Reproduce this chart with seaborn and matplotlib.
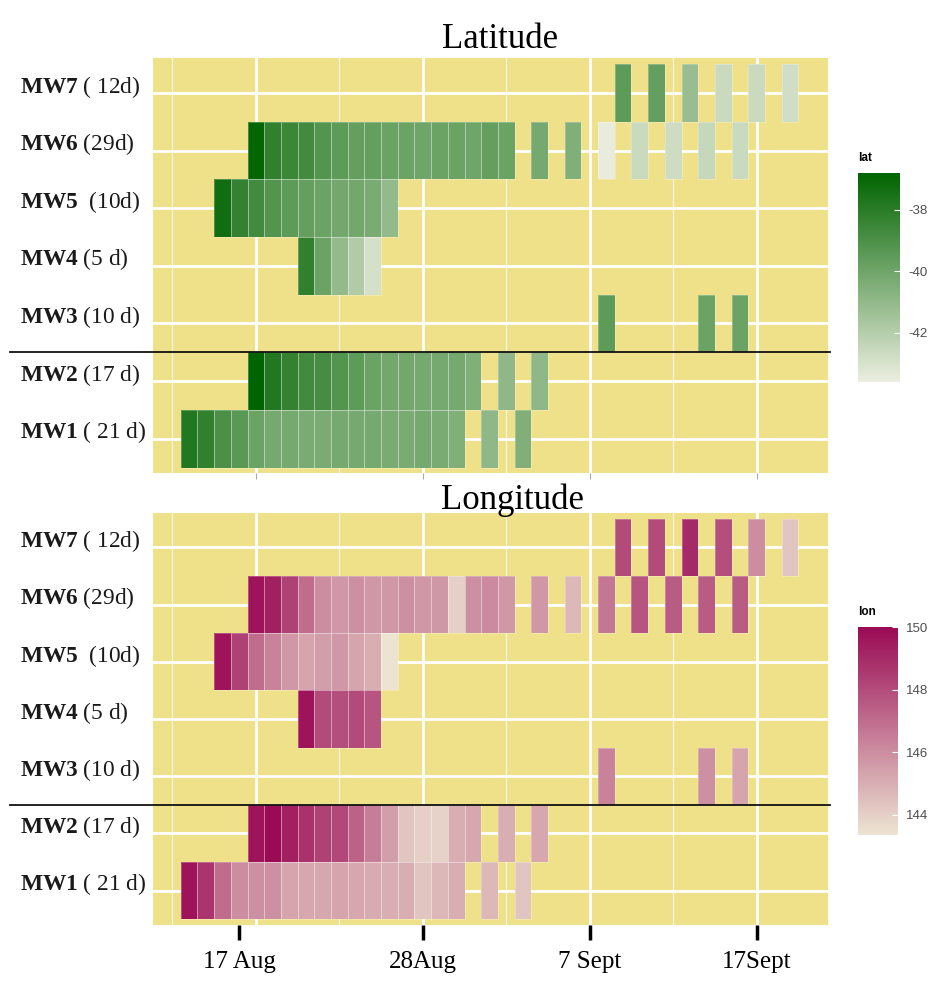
import numpy as np
import pandas as pd
import seaborn as sns
import matplotlib.pyplot as plt
from matplotlib.colors import LinearSegmentedColormap

##### data (x = day of year, one tile per day) #####

tags = ["MW7", "MW6", "MW5", "MW4", "MW3", "MW2", "MW1"]
row_labels = [r"$\mathbf{MW7}$ ( 12d)", r"$\mathbf{MW6}$ (29d)", r"$\mathbf{MW5}$  (10d)",
              r"$\mathbf{MW4}$ (5 d)", r"$\mathbf{MW3}$ (10 d)", r"$\mathbf{MW2}$ (17 d)",
              r"$\mathbf{MW1}$ ( 21 d)"]

mw7_days = [252, 254, 256, 258, 260, 262]
mw7_lat = [-39.5, -39.7, -41.2, -42.6, -42.6, -42.8]
mw7_lon = [148.0, 148.0, 149.0, 147.9, 146.0, 144.3]

mw6_days = [230, 231, 232, 233, 234, 235, 236, 237, 238, 239, 240, 241, 242, 243, 244, 245,
            247, 249, 251, 253, 255, 257, 259]
mw6_lat = [-36.9, -38.2, -38.5, -38.7, -39.2, -39.5, -39.7, -39.7, -39.9, -39.9, -40.0, -39.9,
           -39.9, -40.0, -39.7, -39.9, -40.2, -40.5, -43.5, -42.6, -42.7, -42.5, -42.6]
mw6_lon = [149.7, 149.3, 148.3, 147.0, 146.0, 145.7, 145.9, 145.7, 145.7, 145.9, 145.7, 145.7,
           144.0, 145.9, 146.1, 145.7, 145.7, 144.7, 146.7, 147.7, 147.5, 147.5, 147.5]

mw5_days = [228, 229, 230, 231, 232, 233, 234, 235, 236, 237, 238]
mw5_lat = [-37.3, -38.3, -38.7, -39.2, -39.5, -39.7, -39.9, -40.1, -40.1, -40.3, -41.0]
mw5_lon = [149.7, 148.3, 147.0, 146.3, 145.7, 145.3, 145.5, 145.7, 145.3, 145.0, 143.4]

mw4_days = [233, 234, 235, 236, 237]
mw4_lat = [-38.2, -39.9, -41.0, -41.9, -42.9]
mw4_lon = [149.7, 148.0, 147.9, 148.0, 147.7]

mw3_days = [251, 257, 259]
mw3_lat = [-39.5, -39.9, -39.9]
mw3_lon = [146.3, 145.9, 145.3]

mw2_days = [230, 231, 232, 233, 234, 235, 236, 237, 238, 239, 240, 241, 242, 243, 245, 247]
mw2_lat = [-36.8, -37.8, -38.3, -38.7, -38.8, -39.2, -39.5, -39.9, -40.1, -40.1, -40.2, -40.2,
           -40.2, -40.5, -40.9, -40.9]
mw2_lon = [149.7, 150.0, 149.3, 148.8, 148.3, 148.1, 147.3, 146.5, 145.5, 144.3, 144.0, 143.9,
           145.0, 145.2, 145.0, 145.2]

mw1_days = [226, 227, 228, 229, 230, 231, 232, 233, 234, 235, 236, 237, 238, 239, 240, 241, 242,
            244, 246]
mw1_lat = [-37.8, -38.2, -39.0, -39.4, -39.9, -40.2, -40.2, -40.3, -40.3, -40.2, -40.2, -40.2,
           -40.3, -40.3, -40.2, -40.3, -40.5, -40.9, -40.5]
mw1_lon = [149.7, 148.7, 147.0, 146.0, 145.9, 145.9, 145.3, 145.2, 145.2, 145.3, 145.2, 145.1,
           145.0, 145.0, 144.3, 144.7, 145.0, 144.7, 144.3]

tick_days = [229, 240, 250, 260]
tick_labels = ["17 Aug", "28Aug", "7 Sept", "17Sept"]
grid_major = [230, 240, 250, 260]
grid_minor = [225, 235, 245, 255]

##### long -> wide tables #####

all_days = [mw7_days, mw6_days, mw5_days, mw4_days, mw3_days, mw2_days, mw1_days]
all_lat = [mw7_lat, mw6_lat, mw5_lat, mw4_lat, mw3_lat, mw2_lat, mw1_lat]
all_lon = [mw7_lon, mw6_lon, mw5_lon, mw4_lon, mw3_lon, mw2_lon, mw1_lon]

recs = []
for tag, d, la, lo in zip(tags, all_days, all_lat, all_lon):
    for i in range(len(d)):
        recs.append({"tag": tag, "day": d[i], "lat": la[i], "lon": lo[i]})
df = pd.DataFrame(recs)

day0 = 224
cols = np.arange(day0, 265)
lat_wide = df.pivot(index="tag", columns="day", values="lat").reindex(index=tags, columns=cols)
lon_wide = df.pivot(index="tag", columns="day", values="lon").reindex(index=tags, columns=cols)

def xpos(d):
    return d - day0 + 0.5

##### plot #####

plt.rcParams["font.family"] = ["Liberation Serif", "DejaVu Serif"]
plt.rcParams["mathtext.fontset"] = "custom"
plt.rcParams["mathtext.rm"] = "Liberation Serif"
plt.rcParams["mathtext.bf"] = "Liberation Serif:bold"
plt.rcParams["axes.unicode_minus"] = False

lat_cmap = LinearSegmentedColormap.from_list("lat", ["#ECEEDF", "#006400"])
lon_cmap = LinearSegmentedColormap.from_list("lon", ["#EDE4D2", "#9A0A55"])
panel_bg = "#EFE189"

fig = plt.figure(figsize=(9.32, 9.82), dpi=100)
ax1 = fig.add_axes([0.164, 0.518, 0.724, 0.4226])
ax2 = fig.add_axes([0.164, 0.058, 0.724, 0.4196])
cax1 = fig.add_axes([0.9206, 0.611, 0.045, 0.2128])
cax2 = fig.add_axes([0.9206, 0.1497, 0.043, 0.2118])

panels = [
    (ax1, cax1, lat_wide, lat_cmap, -43.6, -36.8, [-42, -40, -38], "lat", "Latitude",
     500 / 932, 1 - 40 / 982),
    (ax2, cax2, lon_wide, lon_cmap, 143.35, 150.0, [144, 146, 148, 150], "lon", "Longitude",
     512 / 932, 1 - 500 / 982),
]

for ax, cax, wide, cmap, vmin, vmax, cticks, cname, title, tx, ty in panels:
    ax.set_facecolor(panel_bg)
    sns.heatmap(wide, ax=ax, cmap=cmap, vmin=vmin, vmax=vmax, cbar_ax=cax,
                xticklabels=False, yticklabels=False,
                cbar_kws={"ticks": cticks})
    ax.set_xlabel("")
    ax.set_ylabel("")
    ax.set_xlim(0.33, 40.75)
    ax.set_ylim(7.1, -0.1)

    # ggplot-style white grid under the tiles
    for d in grid_major:
        ax.axvline(xpos(d), color="white", lw=2.0, zorder=0.5)
    for d in grid_minor:
        ax.axvline(xpos(d), color="white", lw=0.8, alpha=0.8, zorder=0.5)
    for r in range(len(tags)):
        ax.axhline(r + 0.5, color="white", lw=2.0, zorder=0.5)

    # thin seams between tiles
    for r, d in enumerate(all_days):
        for dd in d:
            ax.add_patch(plt.Rectangle((xpos(dd) - 0.5, r), 1, 1, fill=False,
                                       ec=(1, 1, 1, 0.3), lw=0.6, zorder=2))

    # separator between MW3 and MW2
    ax.axhline(5, xmin=-0.212, xmax=1.003, color="#111111", lw=1.3, clip_on=False, zorder=5)

    ax.set_yticks(np.arange(len(tags)) + 0.33)
    ax.set_yticklabels(row_labels, fontsize=16.8, ha="left", color="#1a1a1a")
    ax.tick_params(axis="y", length=0, pad=96)
    for s in ax.spines.values():
        s.set_visible(False)

    fig.text(tx, ty, title, ha="center", va="center", fontsize=25)

    cbar = ax.collections[0].colorbar
    cbar.outline.set_visible(False)
    cax.tick_params(direction="in", length=4, color="white", width=0.8,
                    labelsize=9.5, labelcolor="#4d4d4d", pad=6)
    for t in cax.get_yticklabels():
        t.set_family("Liberation Sans")
    cax.set_title(cname, loc="left", fontsize=8.5, fontweight="bold",
                  family="Liberation Sans", pad=9)

ax1.set_xticks([xpos(d) for d in grid_major])
ax1.set_xticklabels([])
ax1.tick_params(axis="x", length=4, color="#aaaaaa", width=0.8)

ax2.set_xticks([xpos(d) for d in tick_days])
ax2.set_xticklabels(tick_labels, fontsize=18, rotation=0)
ax2.tick_params(axis="x", length=11, width=2.5, color="black", pad=8)

fig.savefig("out.png", dpi=100, facecolor="white")
